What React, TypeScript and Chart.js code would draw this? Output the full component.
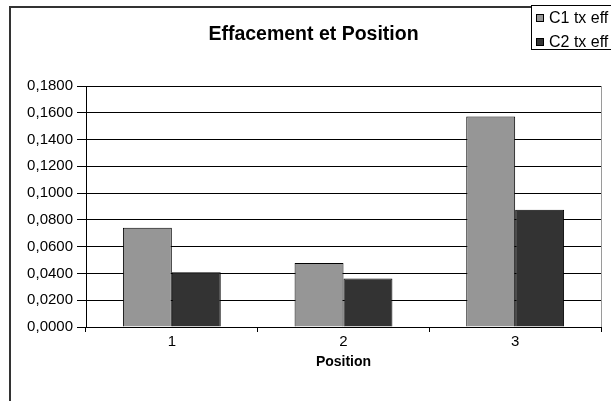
import React, { useEffect, useRef } from "react";
import { Chart, registerables } from "chart.js";

Chart.register(...registerables);

const categories = ["1", "2", "3"];
const seriesNames = ["C1 tx eff", "C2 tx eff"];
const c1Values = [0.0742, 0.0478, 0.1572];
const c2Values = [0.0409, 0.0362, 0.0876];
const yTicks = [0, 0.02, 0.04, 0.06, 0.08, 0.1, 0.12, 0.14, 0.16, 0.18];
const chartTitle = "Effacement et Position";
const xTitle = "Position";

const FONT = "Arial, 'Liberation Sans', sans-serif";
const colors = ["#969696", "#333333"];

const framePlugin = {
  id: "frame",
  afterDraw(chart: any) {
    const ctx = chart.ctx;
    const area = chart.chartArea;
    ctx.save();
    // outer border
    ctx.strokeStyle = "#333333";
    ctx.lineWidth = 2;
    ctx.strokeRect(10, 7, 700, 500);
    // right edge of plot area
    ctx.strokeStyle = "#9a9a9a";
    ctx.lineWidth = 1;
    ctx.beginPath();
    ctx.moveTo(Math.round(area.right) + 0.5, area.top);
    ctx.lineTo(Math.round(area.right) + 0.5, area.bottom);
    ctx.stroke();
    // legend box
    ctx.fillStyle = "#ffffff";
    ctx.fillRect(531, 6, 120, 44);
    ctx.strokeStyle = "#000000";
    ctx.lineWidth = 1;
    ctx.strokeRect(531.5, 5.5, 120, 44);
    ctx.font = "16px " + FONT;
    ctx.textBaseline = "middle";
    ctx.textAlign = "left";
    seriesNames.forEach((name, i) => {
      const cy = 18 + i * 24;
      ctx.fillStyle = colors[i];
      ctx.fillRect(536.5, cy - 3.5, 7, 7);
      ctx.strokeStyle = "#000000";
      ctx.strokeRect(536.5, cy - 3.5, 7, 7);
      ctx.fillStyle = "#000000";
      ctx.fillText(name, 549, cy + 1);
    });
    ctx.restore();
  },
};

function App() {
  const canvasRef = useRef<HTMLCanvasElement | null>(null);

  useEffect(() => {
    if (!canvasRef.current) return;
    const chart = new Chart(canvasRef.current, {
      type: "bar",
      data: {
        labels: categories,
        datasets: [
          {
            label: seriesNames[0],
            data: c1Values,
            backgroundColor: colors[0],
            borderColor: "#000000",
            borderWidth: 1,
            barPercentage: 1,
            categoryPercentage: 0.57,
          },
          {
            label: seriesNames[1],
            data: c2Values,
            backgroundColor: colors[1],
            borderColor: "#000000",
            borderWidth: 1,
            barPercentage: 1,
            categoryPercentage: 0.57,
          },
        ],
      },
      options: {
        animation: false,
        responsive: false,
        maintainAspectRatio: false,
        layout: { padding: { top: 0, right: 10, left: 26, bottom: 0 } },
        plugins: {
          legend: { display: false },
          tooltip: { enabled: false },
          title: {
            display: true,
            text: chartTitle,
            color: "#000000",
            font: { family: FONT, size: 19.5, weight: "bold" },
            padding: { top: 23, bottom: 39.6 },
          },
        },
        scales: {
          x: {
            grid: {
              offset: true,
              drawOnChartArea: false,
              drawTicks: true,
              tickLength: 5,
              color: "#000000",
            },
            border: { display: true, color: "#000000" },
            ticks: {
              color: "#000000",
              font: { family: FONT, size: 15 },
              padding: 1,
            },
            title: {
              display: true,
              text: xTitle,
              color: "#000000",
              font: { family: FONT, size: 14, weight: "bold" },
              padding: { top: 6, bottom: 30 },
            },
            afterFit(scale: any) {
              scale.height = 74;
            },
          },
          y: {
            min: 0,
            max: 0.18,
            afterBuildTicks(scale: any) {
              scale.ticks = yTicks.map((v) => ({ value: v }));
            },
            grid: {
              color: "#000000",
              lineWidth: 1,
              drawTicks: true,
              tickLength: 9,
            },
            border: { display: true, color: "#000000" },
            ticks: {
              color: "#000000",
              font: { family: FONT, size: 15 },
              padding: 4,
              callback: (v: any) => Number(v).toFixed(4).replace(".", ","),
            },
            afterFit(scale: any) {
              scale.width = 60;
            },
          },
        },
      },
      plugins: [framePlugin],
    });
    return () => chart.destroy();
  }, []);

  return (
    <div style={{ position: "fixed", left: 0, top: 0, width: 611, height: 401, background: "#fff" }}>
      <canvas ref={canvasRef} width={611} height={401} style={{ width: 611, height: 401, display: "block" }} />
    </div>
  );
}

export default App;
